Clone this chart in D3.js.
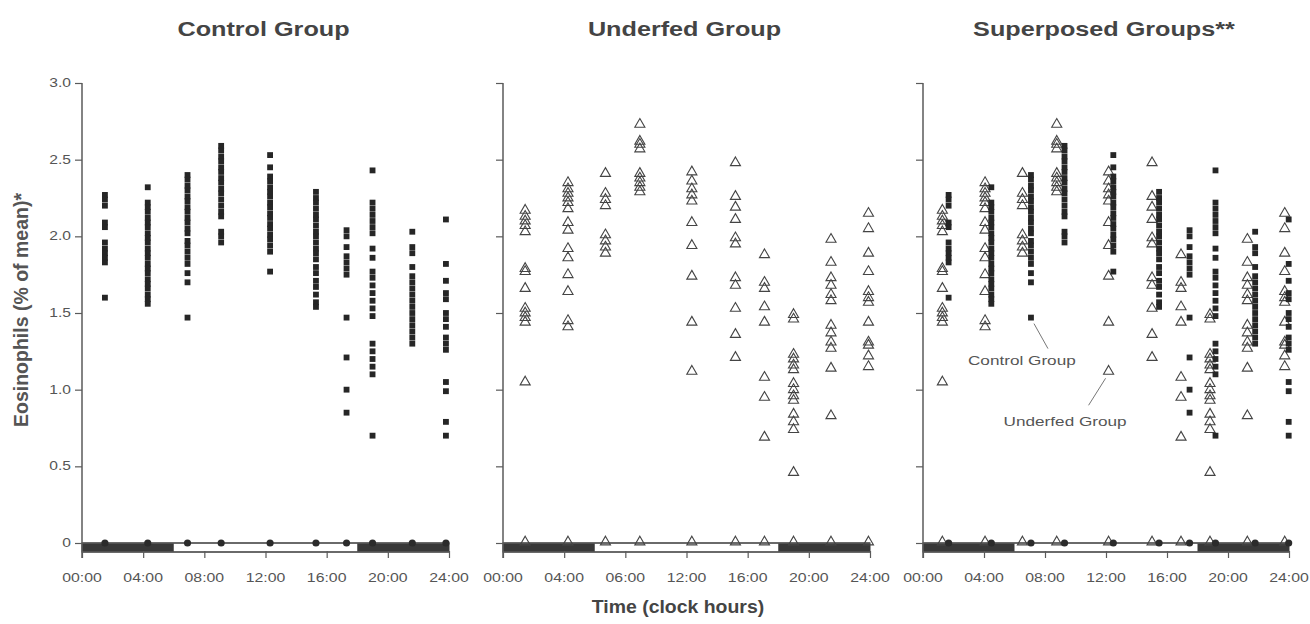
<!DOCTYPE html>
<html>
<head>
<meta charset="utf-8">
<script src="https://cdn.jsdelivr.net/npm/d3@7"></script>
<style>
  html, body { margin: 0; padding: 0; background: #fff; }
  svg { display: block; }
  text { font-family: "Liberation Sans", Arial, Helvetica, sans-serif; }
</style>
</head>
<body>
<svg id="chart" width="1310" height="624"></svg>
<script>
// ---------------- data ----------------
const panelTitles = ["Control Group", "Underfed Group", "Superposed Groups**"];
const yTicks = [0, 0.5, 1.0, 1.5, 2.0, 2.5, 3.0];
const yTickLabels = ["0", "0.5", "1.0", "1.5", "2.0", "2.5", "3.0"];
const xTicks = [0, 4, 8, 12, 16, 20, 24];
const xTickLabelsControl = ["00:00", "04:00", "08:00", "12:00", "16:00", "20:00", "24:00"];
const xTickLabelsUnderfed = ["00:00", "04:00", "06:00", "12:00", "16:00", "20:00", "24:00"];
const xTickLabelsSuper = ["00:00", "04:00", "08:00", "12:00", "16:00", "20:00", "24:00"];
const darkPeriods = [[0, 6], [18, 24]];

// sampling clock hours of each column
const controlHours = [1.5, 4.3, 6.9, 9.1, 12.3, 15.3, 17.3, 19.0, 21.6, 23.8];
const underfedHours = [1.45, 4.25, 6.7, 8.95, 12.35, 15.2, 17.1, 19.0, 21.45, 23.9];

// eosinophils (% of mean) for each column
const controlValues = [
  [2.27, 2.24, 2.20, 2.09, 2.06, 1.96, 1.92, 1.89, 1.86, 1.83, 1.60],
  [2.32, 2.22, 2.19, 2.16, 2.12, 2.09, 2.06, 2.02, 1.99, 1.96, 1.92, 1.89, 1.86, 1.82, 1.79, 1.76, 1.72, 1.69, 1.66, 1.62, 1.59, 1.56],
  [2.40, 2.37, 2.33, 2.30, 2.26, 2.23, 2.19, 2.16, 2.12, 2.09, 2.05, 2.02, 1.97, 1.94, 1.90, 1.86, 1.82, 1.76, 1.70, 1.47],
  [2.59, 2.56, 2.52, 2.49, 2.45, 2.42, 2.38, 2.35, 2.31, 2.28, 2.24, 2.20, 2.16, 2.13, 2.03, 2.00, 1.96],
  [2.53, 2.45, 2.39, 2.36, 2.32, 2.29, 2.26, 2.22, 2.19, 2.15, 2.12, 2.08, 2.05, 2.01, 1.98, 1.94, 1.90, 1.77],
  [2.29, 2.25, 2.22, 2.18, 2.14, 2.11, 2.07, 2.03, 2.00, 1.96, 1.92, 1.89, 1.85, 1.80, 1.76, 1.71, 1.67, 1.62, 1.57, 1.54],
  [2.04, 2.00, 1.93, 1.87, 1.83, 1.79, 1.75, 1.47, 1.21, 1.00, 0.85],
  [2.43, 2.22, 2.18, 2.14, 2.10, 2.06, 2.02, 1.92, 1.86, 1.77, 1.73, 1.68, 1.63, 1.58, 1.53, 1.48, 1.30, 1.25, 1.20, 1.15, 1.10, 0.70],
  [2.03, 1.93, 1.89, 1.80, 1.74, 1.70, 1.66, 1.62, 1.58, 1.54, 1.50, 1.46, 1.42, 1.38, 1.34, 1.30],
  [2.11, 1.82, 1.71, 1.63, 1.59, 1.50, 1.46, 1.41, 1.34, 1.30, 1.26, 1.05, 0.99, 0.79, 0.70]
];
const underfedValues = [
  [2.17, 2.13, 2.10, 2.07, 2.03, 1.79, 1.77, 1.66, 1.53, 1.50, 1.47, 1.44, 1.05],
  [2.35, 2.31, 2.28, 2.25, 2.22, 2.18, 2.09, 2.04, 1.92, 1.86, 1.75, 1.64, 1.45, 1.41],
  [2.41, 2.28, 2.24, 2.20, 2.01, 1.97, 1.93, 1.89],
  [2.73, 2.62, 2.60, 2.57, 2.41, 2.38, 2.35, 2.32, 2.29],
  [2.42, 2.36, 2.31, 2.27, 2.23, 2.09, 1.94, 1.74, 1.44, 1.12],
  [2.48, 2.26, 2.19, 2.11, 1.99, 1.95, 1.73, 1.68, 1.53, 1.36, 1.21],
  [1.88, 1.70, 1.66, 1.54, 1.44, 1.08, 0.95, 0.69],
  [1.49, 1.46, 1.23, 1.20, 1.16, 1.13, 1.04, 1.00, 0.96, 0.93, 0.84, 0.79, 0.74, 0.46],
  [1.98, 1.83, 1.73, 1.68, 1.62, 1.58, 1.42, 1.37, 1.31, 1.27, 1.14, 0.83],
  [2.15, 2.05, 1.89, 1.77, 1.64, 1.60, 1.57, 1.44, 1.31, 1.29, 1.22, 1.15]
];
const superOffset = 0.18; // hours of horizontal separation in the superposed panel
// annotated points in the superposed panel: [column, index]
const controlNote = { text: "Control Group", col: 2, idx: 19 };
const underfedNote = { text: "Underfed Group", col: 4, idx: 9 };

// ---------------- layout ----------------
const svg = d3.select("#chart");
const panels = [
  { x0: 82, x1: 449, labels: xTickLabelsControl, showY: true },
  { x0: 503, x1: 870, labels: xTickLabelsUnderfed, showY: false },
  { x0: 923, x1: 1289, labels: xTickLabelsSuper, showY: false }
];
const y = d3.scaleLinear().domain([0, 3]).range([543, 83]);
const bandH = 9;           // height of light/dark bar below zero
const axisY = y(0) + bandH;
const axisCol = "#5a5a5a";
const textCol = "#4a4a4a";

function stext(g, str, x, yy, size, sx, weight, anchor, fill) {
  return g.append("text")
    .attr("transform", `translate(${x},${yy}) scale(${sx},1)`)
    .attr("text-anchor", anchor || "middle")
    .attr("font-size", size)
    .attr("font-weight", weight || "normal")
    .attr("fill", fill || textCol)
    .text(str);
}

const sq = d3.symbol().type(d3.symbolSquare).size(34);
const dot = d3.symbol().type(d3.symbolCircle).size(40);
const tri = d3.symbol().type(d3.symbolTriangle).size(44);

panels.forEach((p, pi) => {
  const x = d3.scaleLinear().domain([0, 24]).range([p.x0, p.x1]);
  const g = svg.append("g");
  p.x = x;

  // title
  stext(g, panelTitles[pi], (p.x0 + p.x1) / 2 - 2, 36, 21, 1.2, "bold", "middle", "#444");

  // light/dark bar
  g.append("rect").attr("x", x(0)).attr("y", y(0)).attr("width", x(24) - x(0)).attr("height", bandH)
    .attr("fill", "#fff").attr("stroke", axisCol).attr("stroke-width", 1.2);
  darkPeriods.forEach(d => {
    g.append("rect").attr("x", x(d[0])).attr("y", y(0)).attr("width", x(d[1]) - x(d[0])).attr("height", bandH)
      .attr("fill", "#383838");
  });

  // y axis
  const ya = d3.axisLeft(y).tickValues(yTicks).tickSize(7).tickFormat("");
  const yg = g.append("g").attr("transform", `translate(${p.x0},0)`).call(ya);
  yg.select(".domain").remove();
  yg.selectAll("line").attr("stroke", axisCol).attr("stroke-width", 1.2);
  g.append("line").attr("x1", p.x0).attr("x2", p.x0).attr("y1", y(3)).attr("y2", axisY + 6)
    .attr("stroke", axisCol).attr("stroke-width", 1.5);
  if (p.showY) {
    yTicks.forEach((v, i) => {
      stext(g, yTickLabels[i], p.x0 - 11, y(v) + 4, 12, 1.3, "normal", "end", "#555");
    });
  }

  // x axis
  g.append("line").attr("x1", p.x0).attr("x2", p.x1).attr("y1", axisY).attr("y2", axisY)
    .attr("stroke", axisCol).attr("stroke-width", 1.3);
  g.append("line").attr("x1", p.x0).attr("x2", p.x1).attr("y1", y(0)).attr("y2", y(0))
    .attr("stroke", axisCol).attr("stroke-width", 1.3);
  const xa = d3.axisBottom(x).tickValues(xTicks).tickSize(7).tickFormat("");
  const xg = g.append("g").attr("transform", `translate(0,${axisY - 1})`).call(xa);
  xg.select(".domain").remove();
  xg.selectAll("line").attr("stroke", axisCol).attr("stroke-width", 1.2);
  xTicks.forEach((v, i) => {
    stext(g, p.labels[i], x(v), 582, 12, 1.32, "normal", "middle", "#555");
  });

  // marks
  const drawControl = (off) => {
    controlValues.forEach((col, ci) => {
      const hx = x(controlHours[ci] + off);
      g.append("path").attr("d", dot).attr("transform", `translate(${hx},${y(0)})`).attr("fill", "#2b2b2b");
      col.forEach(v => {
        g.append("path").attr("d", sq).attr("transform", `translate(${hx},${y(v)})`).attr("fill", "#262626");
      });
    });
  };
  const drawUnderfed = (off) => {
    underfedValues.forEach((col, ci) => {
      const hx = x(underfedHours[ci] + off);
      g.append("path").attr("d", tri).attr("transform", `translate(${hx},${y(0) - 1})`)
        .attr("fill", "none").attr("stroke", "#444").attr("stroke-width", 1.1);
      col.forEach(v => {
        g.append("path").attr("d", tri).attr("transform", `translate(${hx},${y(v)})`)
          .attr("fill", "none").attr("stroke", "#444").attr("stroke-width", 1.1);
      });
    });
  };
  if (pi === 0) drawControl(0);
  if (pi === 1) drawUnderfed(0);
  if (pi === 2) {
    drawUnderfed(-superOffset);
    drawControl(superOffset);

    // annotations
    const cx = x(controlHours[controlNote.col] + superOffset);
    const cy = y(controlValues[controlNote.col][controlNote.idx]);
    g.append("line").attr("x1", cx + 3).attr("y1", cy + 6).attr("x2", cx + 17).attr("y2", cy + 31)
      .attr("stroke", "#777").attr("stroke-width", 1);
    stext(g, controlNote.text, cx - 63, cy + 47, 13, 1.32, "normal", "start", "#555");

    const ux = x(underfedHours[underfedNote.col] - superOffset);
    const uy = y(underfedValues[underfedNote.col][underfedNote.idx]);
    g.append("line").attr("x1", ux - 3).attr("y1", uy + 7).attr("x2", ux - 20).attr("y2", uy + 34)
      .attr("stroke", "#777").attr("stroke-width", 1);
    stext(g, underfedNote.text, ux - 105, uy + 55, 13, 1.32, "normal", "start", "#555");
  }
});

// axis titles
svg.append("text")
  .attr("transform", `translate(28,310) rotate(-90)`)
  .attr("text-anchor", "middle")
  .attr("font-size", 19.5)
  .attr("font-weight", "bold")
  .attr("fill", "#555")
  .text("Eosinophils (% of mean)*");
stext(svg, "Time (clock hours)", 678, 613, 18, 1.08, "bold", "middle", "#444");
</script>
</body>
</html>
